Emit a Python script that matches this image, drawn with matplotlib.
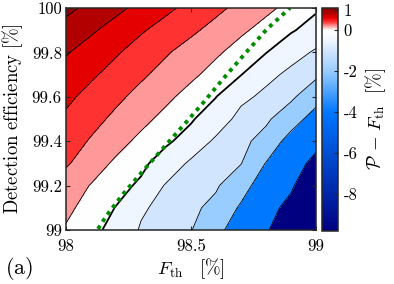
import numpy as np
import matplotlib
matplotlib.use('Agg')
import matplotlib.pyplot as plt
from matplotlib.colors import LinearSegmentedColormap, Normalize
from matplotlib.cm import ScalarMappable

plt.rcParams['font.family'] = ['cmr10', 'DejaVu Serif']
plt.rcParams['mathtext.fontset'] = 'cm'
plt.rcParams['axes.unicode_minus'] = False

# grid of the map (F_th along x, detection efficiency along y), in %
f_th = [98.0, 98.1, 98.2, 98.3, 98.4, 98.5, 98.6, 98.7, 98.8, 98.9, 99.0]
eta = [99.0, 99.1, 99.2, 99.3, 99.4, 99.5, 99.6, 99.7, 99.8, 99.9, 100.0]

# P - F_th [%], one row per eta value
z_990 = [0.18, 0.10, -0.12, -0.55, -0.758, -0.967, -1.677, -2.625, -3.667, -6.35, -9.8]
z_991 = [0.246, 0.122, -0.008, -0.429, -0.659, -0.851, -1.204, -2.145, -3.18, -4.70, -8.06]
z_992 = [0.302, 0.191, 0.079, -0.04, -0.549, -0.73, -0.911, -1.56, -2.62, -3.65, -6.32]
z_993 = [0.424, 0.292, 0.167, 0.056, -0.12, -0.609, -0.792, -0.974, -2.04, -3.09, -4.58]
z_994 = [0.495, 0.382, 0.268, 0.154, 0.039, -0.10, -0.611, -0.825, -1.254, -2.45, -3.41]
z_995 = [0.568, 0.463, 0.358, 0.254, 0.144, 0.027, -0.15, -0.70, -0.88, -1.459, -2.52]
z_996 = [0.641, 0.541, 0.441, 0.341, 0.242, 0.129, 0.006, -0.354, -0.639, -0.866, -1.54]
z_997 = [0.73, 0.63, 0.53, 0.43, 0.334, 0.239, 0.130, 0.012, -0.338, -0.63, -0.854]
z_998 = [0.815, 0.717, 0.620, 0.520, 0.418, 0.323, 0.229, 0.124, 0.013, -0.288, -0.569]
z_999 = [0.928, 0.828, 0.725, 0.621, 0.527, 0.436, 0.337, 0.232, 0.136, 0.045, -0.18]
z_1000 = [1.05, 0.948, 0.848, 0.746, 0.642, 0.542, 0.446, 0.346, 0.242, 0.148, 0.061]

# threshold curve (green dotted)
thr_f = [98.128, 98.164, 98.232, 98.304, 98.396, 98.496, 98.548, 98.628, 98.708, 98.804, 98.896]
thr_eta = [99.005, 99.068, 99.167, 99.261, 99.378, 99.505, 99.572, 99.680, 99.784, 99.905, 100.0]

levels = [-4, -2, -1, -0.5, 0, 0.2, 0.4, 0.6, 0.8, 1.0]
xticks = [98, 98.5, 99]
xticklabels = ['98', '98.5', '99']
yticks = [99, 99.2, 99.4, 99.6, 99.8, 100]
yticklabels = ['99', '99.2', '99.4', '99.6', '99.8', '100']
cticks = [-8, -6, -4, -2, 0, 1]
cticklabels = ['-8', '-6', '-4', '-2', '0', '1']

vmin, vmax = -9.8, 1.08
nodes = [(-9.8, (0.0, 0.0, 0.5)), (-4, (0.0, 0.47, 1.0)), (-2, (0.6, 0.8, 1.0)),
         (-1, (0.82, 0.9, 1.0)), (-0.5, (0.94, 0.965, 1.0)), (0, (1, 1, 1)),
         (0.2, (1.0, 0.6, 0.6)), (0.4, (1.0, 0.2, 0.2)), (0.6, (0.9, 0.0, 0.0)),
         (0.8, (0.7, 0.0, 0.0)), (1.08, (0.55, 0.0, 0.0))]
cmap = LinearSegmentedColormap.from_list(
    'rwb', [((v - vmin) / (vmax - vmin), c) for v, c in nodes], N=4096)
norm = Normalize(vmin, vmax)

Z = np.array([z_990, z_991, z_992, z_993, z_994, z_995, z_996, z_997, z_998, z_999, z_1000])
X, Y = np.meshgrid(f_th, eta)

fig = plt.figure(figsize=(3.94, 2.84), dpi=100)
ax = fig.add_axes([0.1675, 0.190, 0.6345, 0.782])
cax = fig.add_axes([0.816, 0.187, 0.042, 0.785])

fill_levels = [-10] + levels + [1.2]
band_colors = [cmap(norm(max(l, vmin))) for l in fill_levels[:-1]]
ax.contourf(X, Y, Z, levels=fill_levels, colors=band_colors)
widths = [1.3 if l == 0 else 0.6 for l in levels]
ax.contour(X, Y, Z, levels=levels, colors='k', linewidths=widths,
           negative_linestyles='solid')

ax.plot(thr_f, thr_eta, color=(0.0, 0.55, 0.0), lw=2.8, ls=(0, (1, 1.2)))

ax.set_xlim(98, 99)
ax.set_ylim(99, 100)
ax.set_xticks(xticks)
ax.set_xticklabels(xticklabels)
ax.set_yticks(yticks)
ax.set_yticklabels(yticklabels)
ax.tick_params(direction='in', top=True, right=True, length=3, width=0.8,
               labelsize=12, color='0.15')
ax.tick_params(axis='x', pad=6)
ax.tick_params(axis='y', pad=3)
for s in ax.spines.values():
    s.set_color('0.15')
    s.set_linewidth(1.1)

ax.set_xlabel(r'$F_{\rm th}\ \ \ [\%]$', fontsize=13.5)
ax.xaxis.set_label_coords(0.5, -0.12)
ax.set_ylabel(r'$\mathrm{Detection\ efficiency\ [\%]}$', fontsize=13.5)
ax.yaxis.set_label_coords(-0.165, 0.5)

cb = fig.colorbar(ScalarMappable(norm=norm, cmap=cmap), cax=cax, ticks=cticks)
cb.set_ticklabels(cticklabels)
cb.ax.tick_params(direction='in', length=3, width=0.8, labelsize=12, pad=4, color='0.15')
cb.outline.set_edgecolor('0.15')
cb.outline.set_linewidth(1.1)
cb.set_label(r'$\mathcal{P}\,-\,F_{\rm th}\ \ [\%]$', fontsize=13.5, labelpad=4)

fig.text(0.048, 0.056, r'$\mathrm{(a)}$', fontsize=16, ha='center', va='center')

fig.savefig('out.png', dpi=100)
